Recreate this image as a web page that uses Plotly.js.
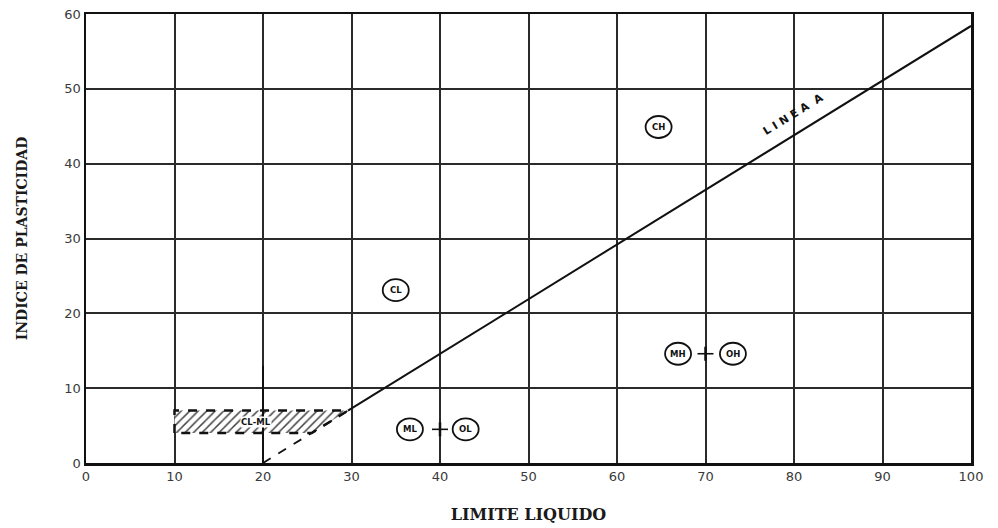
<!DOCTYPE html>
<html>
<head>
<meta charset="utf-8">
<script src="https://cdn.plot.ly/plotly-3.0.1.min.js"></script>
<style>html,body{margin:0;padding:0;background:#fff;}#chart{width:998px;height:528px;}</style>
</head>
<body>
<div id="chart"></div>
<script>
// ---- data ----
const xTickVals = [0, 10, 20, 30, 40, 50, 60, 70, 80, 90, 100];
const xTickText = ['0', '10', '20', '30', '40', '50', '60', '70', '80', '90', '100'];
const yTickVals = [0, 10, 20, 30, 40, 50, 60];
const yTickText = ['0', '10', '20', '30', '40', '50', '60'];

// Línea A (solid part) and its dashed extension
const lineaALL = [29.6, 100];
const lineaAPI = [7, 58.4];
const lineaADashLL = [20, 29.6];
const lineaADashPI = [0, 7];

// CL-ML hatched zone
const clmlLL = [10, 10, 29.6, 25.5, 10];
const clmlPI = [4, 7, 7, 4, 4];

// Short vertical at LL=20
const v20LL = [20, 20];
const v20PI = [0, 13];

// Group labels (circled)
const groupNames = ['CL', 'CH', 'ML', 'OL', 'MH', 'OH'];
const groupLL = [35.0, 64.7, 36.6, 42.9, 66.9, 73.1];
const groupPI = [23.1, 44.9, 4.5, 4.5, 14.6, 14.6];

// Connectors between paired groups
const connLL = [40, 70];
const connPI = [4.5, 14.6];

const serif = '"DejaVu Serif", "Liberation Serif", serif';
const tickFont = {family: '"DejaVu Sans", sans-serif', size: 13, color: '#3a3a3a'};

const traces = [
  {x: clmlLL, y: clmlPI, mode: 'lines', fill: 'toself', fillcolor: 'rgba(0,0,0,0)',
   fillpattern: {shape: '/', fgcolor: '#444', bgcolor: '#fff', size: 6, solidity: 0.25},
   line: {color: '#111', width: 2.5, dash: 'dash'}, hoverinfo: 'skip', showlegend: false},
  {x: lineaALL, y: lineaAPI, mode: 'lines', line: {color: '#111', width: 2}, showlegend: false},
  {x: lineaADashLL, y: lineaADashPI, mode: 'lines', line: {color: '#111', width: 1.8, dash: 'dash'}, showlegend: false},
  {x: v20LL, y: v20PI, mode: 'lines', line: {color: '#111', width: 2}, showlegend: false}
];

const shapes = [];
const annotations = [];
groupNames.forEach((g, i) => {
  shapes.push({type: 'circle', xref: 'x', yref: 'y', xsizemode: 'pixel', ysizemode: 'pixel',
    xanchor: groupLL[i], yanchor: groupPI[i], x0: -13, x1: 13, y0: -11, y1: 11,
    line: {color: '#111', width: 1.8}, fillcolor: '#fff', layer: 'above'});
  annotations.push({x: groupLL[i], y: groupPI[i], xref: 'x', yref: 'y', text: '<b>' + g + '</b>',
    showarrow: false, font: {family: '"DejaVu Sans", sans-serif', size: 8.5, color: '#111'}});
});
connLL.forEach((c, i) => {
  shapes.push({type: 'line', xref: 'x', yref: 'y', xsizemode: 'pixel', ysizemode: 'pixel',
    xanchor: c, yanchor: connPI[i], x0: -8, x1: 8, y0: 0, y1: 0, line: {color: '#111', width: 1.6}});
  shapes.push({type: 'line', xref: 'x', yref: 'y', xsizemode: 'pixel', ysizemode: 'pixel',
    xanchor: c, yanchor: connPI[i], x0: 0, x1: 0, y0: -7, y1: 7, line: {color: '#111', width: 2.5}});
});
annotations.push({x: 19.2, y: 5.5, xref: 'x', yref: 'y', text: '<b>CL-ML</b>', showarrow: false,
  bgcolor: '#fff', borderpad: 0, font: {family: '"DejaVu Sans", sans-serif', size: 8.5, color: '#111'}});
annotations.push({x: 79.9, y: 46.6, xref: 'x', yref: 'y', text: '<b>L I N E A  A</b>', showarrow: false,
  textangle: -31.7, font: {family: '"DejaVu Sans", sans-serif', size: 11, color: '#111'}});

const layout = {
  width: 998, height: 528,
  margin: {l: 86, r: 27, t: 14, b: 65},
  paper_bgcolor: '#fff', plot_bgcolor: '#fff',
  xaxis: {range: [0, 100], tickvals: xTickVals, ticktext: xTickText, showgrid: true,
    gridcolor: '#2a2a2a', gridwidth: 2, zeroline: false, showline: true, linecolor: '#111', linewidth: 2.5,
    mirror: true, ticks: '', tickfont: tickFont, fixedrange: true,
    title: {text: 'LIMITE LIQUIDO', font: {family: serif, size: 16, color: '#1a1a1a', weight: 700}, standoff: 26}},
  yaxis: {range: [0, 60], tickvals: yTickVals, ticktext: yTickText, showgrid: true,
    gridcolor: '#2a2a2a', gridwidth: 2, zeroline: false, showline: true, linecolor: '#111', linewidth: 2.5,
    mirror: true, ticks: '', tickfont: tickFont, fixedrange: true,
    title: {text: 'INDICE DE PLASTICIDAD', font: {family: serif, size: 14, color: '#1a1a1a', weight: 700}, standoff: 34}},
  shapes: shapes,
  annotations: annotations,
  showlegend: false
};

Plotly.newPlot('chart', traces, layout, {staticPlot: true, displayModeBar: false});
</script>
</body>
</html>
